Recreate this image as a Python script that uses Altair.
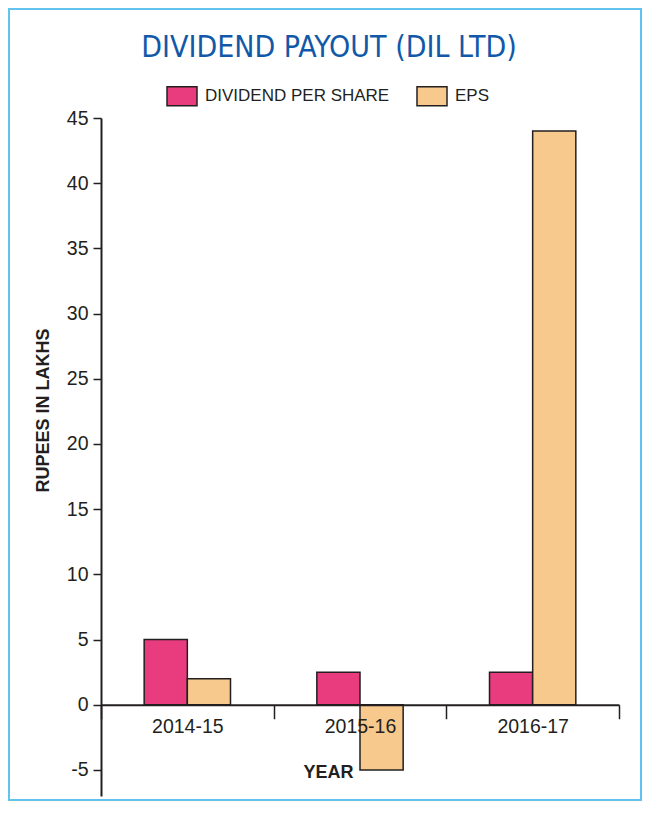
import altair as alt
import pandas as pd

# ---- data ----
years = ["2014-15", "2015-16", "2016-17"]
series = ["DIVIDEND PER SHARE", "EPS"]
dividend_per_share = [5, 2.5, 2.5]
eps = [2, -5, 44]
y_ticks = [-5, 0, 5, 10, 15, 20, 25, 30, 35, 40, 45]
y_min, y_max = -7, 45

rows = []
for i, yr in enumerate(years):
    rows.append({"year": yr, "series": series[0], "value": dividend_per_share[i]})
    rows.append({"year": yr, "series": series[1], "value": eps[i]})
df = pd.DataFrame(rows)

# ---- styles ----
W, H = 518, 678
zero_offset = -H * (0 - y_min) / (y_max - y_min)
INK = "#231f20"
PINK = "#e93c7e"
PEACH = "#f7c98c"
BLUE = "#1159a8"
CYAN = "#62c4ee"
CREAM = "#fffbea"
LABEL_FONT = "Liberation Sans"
TITLE_FONT = "DejaVu Sans Condensed, Liberation Sans Narrow, Liberation Sans"

frame = alt.Chart(pd.DataFrame({"f": [0]})).mark_rect(
    fill="white", stroke=CYAN, strokeWidth=2
).encode(x=alt.value(-92), x2=alt.value(540), y=alt.value(-109), y2=alt.value(682))

bars = alt.Chart(df).mark_bar(stroke=INK, strokeWidth=1.5).encode(
    x=alt.X(
        "year:N", sort=years,
        scale=alt.Scale(paddingInner=0, paddingOuter=0),
        axis=alt.Axis(
            title="YEAR", offset=zero_offset, zindex=1, domainColor=INK, domainWidth=2,
            tickBand="extent", tickColor=INK, tickWidth=1.5, tickSize=14,
            labelAngle=0, labelFont=LABEL_FONT, labelFontSize=19.5,
            labelColor=INK, labelPadding=-1,
            titleFont="Liberation Sans", titleFontWeight="bold", titleFontSize=18,
            titleColor=INK, titleX=227, titleY=68, titleAlign="center",
            titleBaseline="middle",
        ),
    ),
    xOffset=alt.XOffset("series:N", sort=series,
                        scale=alt.Scale(paddingInner=0, paddingOuter=1)),
    y=alt.Y(
        "value:Q", stack=None,
        scale=alt.Scale(domain=[y_min, y_max], nice=False),
        axis=alt.Axis(
            values=y_ticks, title="RUPEES IN LAKHS", grid=False, zindex=1,
            labelExpr="'' + datum.value",
            domainColor=INK, domainWidth=2, tickColor=INK, tickWidth=1.5, tickSize=8,
            labelFont=LABEL_FONT, labelFontSize=19.5, labelColor=INK,
            labelPadding=5,
            titleFont="Liberation Sans", titleFontSize=18, titleFontWeight="bold",
            titleColor=INK, titleAngle=270, titleX=-58, titleY=292,
            titleAlign="center", titleBaseline="middle",
        ),
    ),
    color=alt.Color(
        "series:N", sort=series,
        scale=alt.Scale(domain=series, range=[PINK, PEACH]),
        legend=alt.Legend(
            title=None, orient="none", legendX=70, legendY=-33,
            direction="horizontal", columns=2, padding=0,
            symbolType="M-1.5,-0.95L1.5,-0.95L1.5,0.95L-1.5,0.95Z",
            symbolSize=400, symbolStrokeColor=INK, symbolStrokeWidth=1.5,
            symbolOpacity=1, labelFont="Liberation Sans", labelFontSize=17,
            labelColor=INK, labelOffset=12, labelLimit=400, columnPadding=24,
        ),
    ),
)

chart = alt.layer(frame, bars).properties(
    width=W, height=H,
    padding={"left": 93, "top": 110, "right": 23, "bottom": 6},
    autosize=alt.AutoSizeParams(type="none"),
    background=CREAM,
    title=alt.Title(
        "DIVIDEND PAYOUT (DIL LTD)", font=TITLE_FONT, fontSize=30,
        fontWeight="normal", color=BLUE, anchor="middle", dx=-31, offset=0,
        baseline="alphabetic", dy=79,
    ),
).configure_view(stroke="transparent")

chart.save("out.html", embed_options={"renderer": "svg", "actions": False})
